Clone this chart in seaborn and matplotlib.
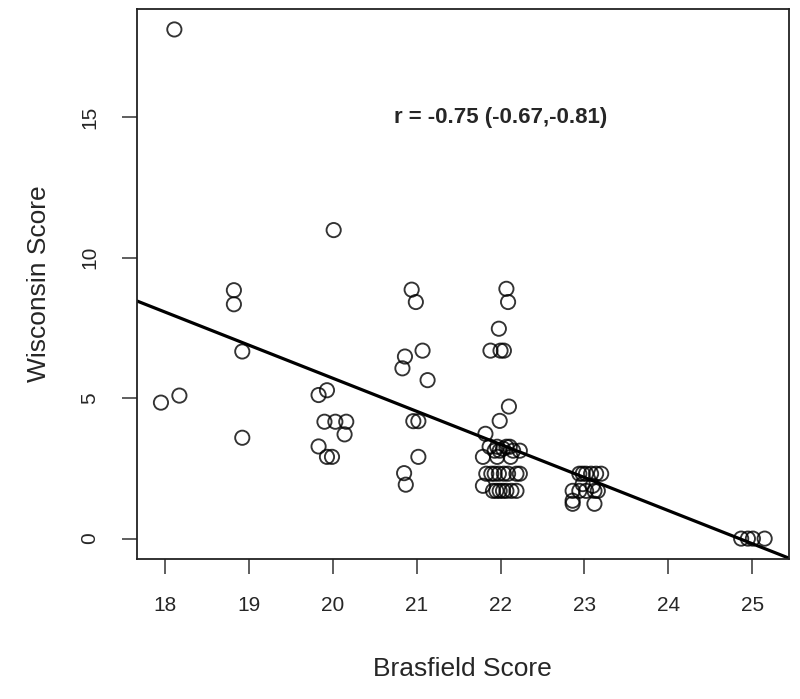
"""
Brasfield vs Wisconsin score scatter with least-squares line.
Saved as out.png.
"""

import numpy as np
import pandas as pd
import matplotlib
matplotlib.use("Agg")
import matplotlib.pyplot as plt
import seaborn as sns

# values (x is jittered around integer scores)
brasfield = [
    18.11, 17.95, 18.17,
    18.82, 18.82, 18.92, 18.92,
    20.01, 19.83, 19.93, 19.90, 20.03, 20.16, 20.14, 19.83, 19.93, 19.99,
    20.94, 20.99, 21.07, 20.86, 20.83, 21.13, 20.96, 21.02, 21.02, 20.85, 20.87,
    22.07, 22.09, 21.98, 21.88, 22.00, 22.04, 22.10, 21.99, 21.82,
    21.87, 21.96, 21.99, 22.07, 22.15, 22.23, 21.93, 22.03, 22.11,
    21.79, 21.96, 22.12,
    21.83, 21.89, 21.98, 22.09, 22.19, 22.23, 21.93, 22.04,
    21.79,
    21.91, 21.99, 22.03, 22.07, 22.13, 22.19, 21.95,
    22.94, 23.02, 23.08, 23.14, 23.20, 22.98,
    22.86, 22.94, 23.02, 23.12, 23.16,
    22.98, 23.10,
    22.86, 23.12, 22.86,
    24.87, 24.95, 25.01, 25.15,
]
wisconsin = [
    18.12, 4.84, 5.09,
    8.84, 8.34, 6.66, 3.59,
    10.98, 5.11, 5.28, 4.16, 4.16, 4.16, 3.71, 3.28, 2.91, 2.91,
    8.86, 8.42, 6.69, 6.48, 6.06, 5.64, 4.18, 4.18, 2.91, 2.33, 1.92,
    8.89, 8.42, 7.47, 6.69, 6.69, 6.69, 4.70, 4.19, 3.73,
    3.27, 3.27, 3.13, 3.27, 3.13, 3.13, 3.13, 3.20, 3.27,
    2.91, 2.91, 2.91,
    2.31, 2.31, 2.31, 2.31, 2.31, 2.31, 2.31, 2.31,
    1.88,
    1.70, 1.70, 1.70, 1.70, 1.70, 1.70, 1.70,
    2.31, 2.31, 2.31, 2.31, 2.31, 2.31,
    1.70, 1.70, 1.70, 1.70, 1.70,
    1.94, 1.88,
    1.24, 1.24, 1.35,
    0.0, 0.0, 0.0, 0.0,
]
x_ticks = [18, 19, 20, 21, 22, 23, 24, 25]
y_ticks = [0, 5, 10, 15]
r_label = "r = -0.75 (-0.67,-0.81)"

df = pd.DataFrame({"brasfield": brasfield, "wisconsin": wisconsin})

sns.set_style("white")
plt.rcParams["font.family"] = ["Liberation Sans", "DejaVu Sans"]

fig = plt.figure(figsize=(8, 6.99), dpi=100)
ax = fig.add_axes([0.171, 0.2003, 0.815, 0.7867])

# R style 4% padding around the data
def padded(vals):
    lo, hi = min(vals), max(vals)
    d = (hi - lo) * 0.04
    return lo - d, hi + d

ax.set_xlim(*padded(brasfield))
ax.set_ylim(*padded(wisconsin))

sns.regplot(x="brasfield", y="wisconsin", data=df, ax=ax, ci=None, truncate=False,
            color="black",
            scatter_kws={"facecolors": "none", "s": 105, "linewidths": 1.35},
            line_kws={"lw": 2.3, "color": "black"})

ax.set_xlim(*padded(brasfield))
ax.set_ylim(*padded(wisconsin))

ax.set_xticks(x_ticks)
ax.set_yticks(y_ticks)
ax.tick_params(axis="both", direction="out", length=11, width=1.1, color="#333333",
               labelsize=15, pad=16, bottom=True, left=True)
for lab in ax.get_yticklabels():
    lab.set_rotation(90)
    lab.set_va("center")

for sp in ax.spines.values():
    sp.set_color("#222222")
    sp.set_linewidth(1.3)

ax.set_xlabel("Brasfield Score", fontsize=19, labelpad=30)
ax.set_ylabel("Wisconsin Score", fontsize=19, labelpad=21)

ax.text(22, 15, r_label, ha="center", va="center", fontsize=16, fontweight="bold")

fig.savefig("out.png", dpi=100)
